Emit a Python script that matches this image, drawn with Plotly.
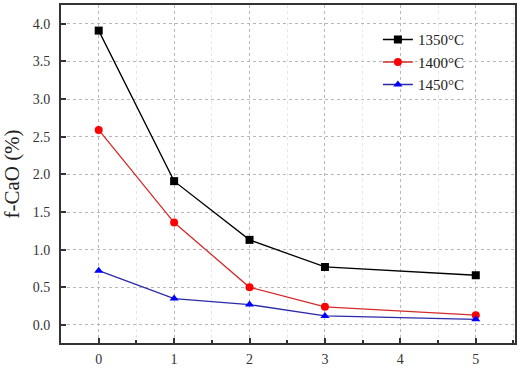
import plotly.graph_objects as go

time_x = [0, 1, 2, 3, 5]
s1350 = [3.91, 1.91, 1.13, 0.77, 0.66]
s1400 = [2.59, 1.36, 0.50, 0.24, 0.13]
s1450 = [0.72, 0.35, 0.27, 0.12, 0.075]
names = ["1350°C", "1400°C", "1450°C"]
y_ticks = [0.0, 0.5, 1.0, 1.5, 2.0, 2.5, 3.0, 3.5, 4.0]
x_ticks = [0, 1, 2, 3, 4, 5]

FONT = "Liberation Serif, serif"

fig = go.Figure()
styles = [
    (s1350, "#000000", "#000000", "square"),
    (s1400, "#d42a2a", "#ff0000", "circle"),
    (s1450, "#2a2aa8", "#0000ff", "triangle-up"),
]
for (vals, lc, mc, sym), nm in zip(styles, names):
    fig.add_trace(go.Scatter(
        x=time_x, y=vals, name=nm, mode="lines+markers",
        line=dict(color=lc, width=1.3),
        marker=dict(symbol=sym, color=mc, size=8),
    ))

axis_common = dict(
    showline=True, linecolor="#333333", linewidth=2, mirror=True,
    ticks="inside", ticklen=5, tickcolor="#333333", tickwidth=1.5,
    zeroline=False, automargin=False,
    showgrid=True, gridcolor="#b8b8b8", gridwidth=1, griddash="dot",
)

fig.update_xaxes(
    range=[-0.5, 5.52], tickvals=x_ticks, ticktext=[str(v) for v in x_ticks],
    minor=dict(dtick=0.5, tick0=0.5, ticks="inside", ticklen=3, tickcolor="#333333",
               showgrid=True, gridcolor="#e6e6e6", gridwidth=1),
    tickfont=dict(family=FONT, size=14, color="#333333"),
    ticklabelstandoff=2,
    **axis_common,
)
fig.update_yaxes(
    range=[-0.24, 4.25], tickvals=y_ticks, ticktext=[f"{v:.1f}" for v in y_ticks],
    tickfont=dict(family=FONT, size=14, color="#333333"),
    title=dict(text="f-CaO (%)", font=dict(family=FONT, size=21, color="#222222"), standoff=10),
    ticklabelstandoff=6,
    **axis_common,
)

fig.update_layout(
    width=526, height=368,
    margin=dict(l=61, r=11, t=5, b=25),
    paper_bgcolor="white", plot_bgcolor="white",
    showlegend=True,
    legend=dict(x=0.698, y=0.946, xanchor="left", yanchor="top",
                bgcolor="rgba(0,0,0,0)", borderwidth=0,
                font=dict(family=FONT, size=15, color="#222222"),
                itemsizing="trace", tracegroupgap=0),
)

fig.write_html("out.html", config={"displayModeBar": False},
               post_script="document.body.style.margin='0';document.body.style.overflow='hidden';")
